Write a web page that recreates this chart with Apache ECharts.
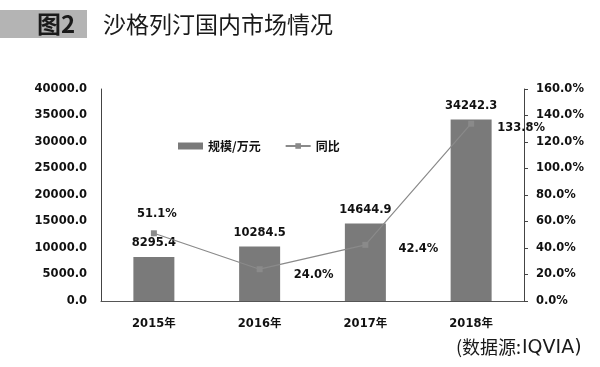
<!DOCTYPE html>
<html><head><meta charset="utf-8">
<script src="https://cdn.jsdelivr.net/npm/echarts@6/dist/echarts.min.js"></script>
<style>html,body{margin:0;padding:0;background:#fff}#c{width:600px;height:367px}</style>
</head><body><div id="c"></div>
<script>
const categories = ['2015年', '2016年', '2017年', '2018年'];
const scaleValues = [8295.4, 10284.5, 14644.9, 34242.3];
const yoyValues = [51.1, 24.0, 42.4, 133.8];
const leftTicks = [0, 5000, 40000];
const rightTicks = [0, 20, 160];

const numFont = '"DejaVu Sans", "Noto Sans CJK SC", sans-serif';
const chart = echarts.init(document.getElementById('c'));
const lineLabelPos = [
  {position: 'top', offset: [3, -6]},
  {position: 'right', offset: [26, 6]},
  {position: 'right', offset: [25, 4]},
  {position: 'right', offset: [18, 4]}
];
chart.setOption({
  animation: false,
  graphic: [
    {type: 'rect', shape: {x: 0, y: 10, width: 87, height: 28}, style: {fill: '#b4b4b4'}},
    {type: 'text', left: 37, top: 12, style: {text: '图2', font: 'bold 24px "Noto Sans CJK SC", sans-serif', fill: '#1a1a1a'}},
    {type: 'text', left: 103, top: 13, style: {text: '沙格列汀国内市场情况', font: '23px "Noto Sans CJK SC", sans-serif', fill: '#1a1a1a'}},
    {type: 'text', left: 456, top: 338, style: {text: '(数据源:', font: '18px "Noto Sans CJK SC", sans-serif', fill: '#1a1a1a'}},
    {type: 'text', left: 522, top: 339, style: {text: 'IQVIA)', font: '19px "DejaVu Sans", sans-serif', fill: '#1a1a1a'}}
  ],
  legend: {
    top: 135, left: 173, itemGap: 24, itemWidth: 25, itemHeight: 7,
    textStyle: {fontFamily: '"Noto Sans CJK SC", sans-serif', fontWeight: 'bold', fontSize: 12, color: '#111'},
    data: [{name: '规模/万元', icon: 'rect'}, {name: '同比'}]
  },
  grid: {left: 101, right: 76, top: 89, bottom: 66},
  xAxis: {
    type: 'category', data: categories,
    axisLine: {lineStyle: {color: '#555', width: 1}},
    axisTick: {show: false},
    axisLabel: {fontFamily: numFont, fontWeight: 'bold', fontSize: 11.5, color: '#111', margin: 17}
  },
  yAxis: [
    {type: 'value', min: leftTicks[0], max: leftTicks[2], interval: leftTicks[1],
     axisLine: {show: true, lineStyle: {color: '#444'}}, axisTick: {show: false},
     splitLine: {show: false},
     axisLabel: {fontFamily: numFont, fontWeight: 'bold', fontSize: 11.5, color: '#111', margin: 14,
       formatter: v => v.toFixed(1)}},
    {type: 'value', min: rightTicks[0], max: rightTicks[2], interval: rightTicks[1],
     axisLine: {show: true, lineStyle: {color: '#444'}}, axisTick: {show: true, length: 4, lineStyle: {color: '#444'}},
     splitLine: {show: false},
     axisLabel: {fontFamily: numFont, fontWeight: 'bold', fontSize: 11.5, color: '#111', margin: 12,
       formatter: v => v.toFixed(1) + '%'}}
  ],
  series: [
    {name: '规模/万元', type: 'bar', data: scaleValues, barWidth: 41,
     itemStyle: {color: '#7a7a7a'},
     label: {show: true, position: 'top', distance: 8, fontFamily: numFont, fontWeight: 'bold', fontSize: 11.5, color: '#111',
       formatter: p => p.value.toFixed(1)}},
    {name: '同比', type: 'line', yAxisIndex: 1,
     data: yoyValues.map((v, i) => ({value: v, label: lineLabelPos[i]})),
     symbol: 'rect', symbolSize: 6, lineStyle: {color: '#8a8a8a', width: 1.2},
     itemStyle: {color: '#8a8a8a'},
     label: {show: true, fontFamily: numFont, fontWeight: 'bold', fontSize: 11.5, color: '#111',
       formatter: p => p.value.toFixed(1) + '%'}}
  ]
});
</script></body></html>
